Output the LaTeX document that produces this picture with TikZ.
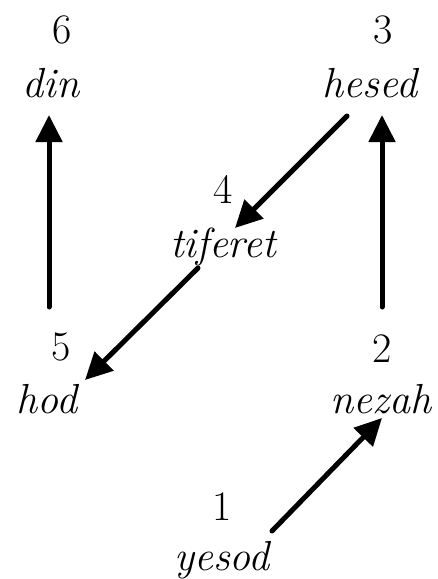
\documentclass[tikz,border=0pt]{standalone}
\usepackage{fontspec}
\usetikzlibrary{arrows.meta}
\tikzset{
  lbl/.style={anchor=base, inner sep=0pt, font=\rmfamily\fontsize{42}{50}\selectfont},
  nm/.style={lbl, font=\rmfamily\fontsize{42}{50}\selectfont\itshape},
  arr/.style={line width=5pt, line cap=round, -{Triangle[length=27pt,width=26pt]}}
}
\begin{document}
\begin{tikzpicture}[x=1pt,y=-1pt]
\useasboundingbox (0,0) rectangle (437,579);
\node[lbl] (n6) at (62,43) {6};
\node[nm] (din) at (51,97) {din};
\node[lbl] (n3) at (383,43) {3};
\node[nm] (hesed) at (370,97) {hesed};
\node[lbl] (n4) at (223,203) {4};
\node[nm] (tiferet) at (223,257) {tiferet};
\node[lbl] (n5) at (61,360) {5};
\node[nm] (hod) at (47,413) {hod};
\node[lbl] (n2) at (382,362) {2};
\node[nm] (nezah) at (381,413) {nezah};
\node[lbl] (n1) at (222,520) {1};
\node[nm] (yesod) at (222,570) {yesod};
\coordinate (a1s) at (49,307); \coordinate (a1e) at (49,115);
\coordinate (a2s) at (382,307); \coordinate (a2e) at (382,115);
\coordinate (a3s) at (347,116); \coordinate (a3e) at (235,228);
\coordinate (a4s) at (198,268); \coordinate (a4e) at (85,380);
\coordinate (a5s) at (272,531); \coordinate (a5e) at (382,418);
\draw[arr] (a1s) -- (a1e);
\draw[arr] (a2s) -- (a2e);
\draw[arr] (a3s) -- (a3e);
\draw[arr] (a4s) -- (a4e);
\draw[arr] (a5s) -- (a5e);
\end{tikzpicture}
\end{document}
